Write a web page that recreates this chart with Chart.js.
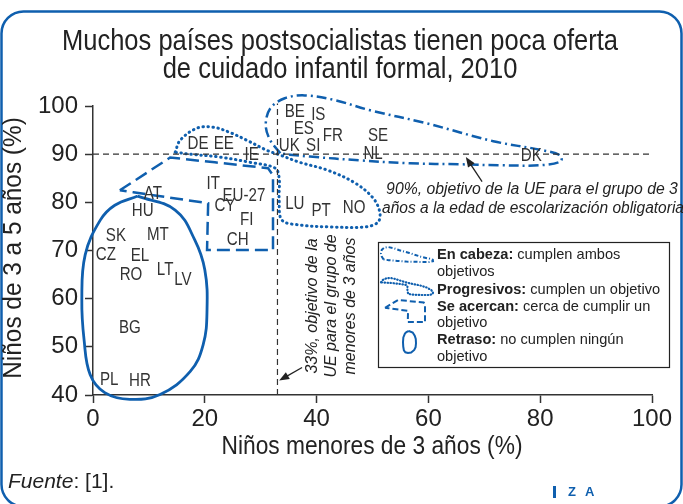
<!DOCTYPE html>
<html>
<head>
<meta charset="utf-8">
<script src="https://cdn.jsdelivr.net/npm/chart.js@4.4.0/dist/chart.umd.min.js"></script>
<style>
  html, body { margin: 0; padding: 0; background: #fff; }
  #wrap { width: 683px; height: 504px; position: relative; }
</style>
</head>
<body>
<div id="wrap"><canvas id="grafico" width="683" height="504"></canvas></div>
<script>
// datos (2010)
var paises   = ['BE', 'IS', 'ES', 'FR', 'SE', 'UK', 'SI', 'NL', 'DK', 'DE', 'EE', 'IE', 'IT', 'EU-27', 'AT', 'CY', 'FI', 'CH',
                'HU', 'SK', 'MT', 'CZ', 'EL', 'RO', 'LT', 'LV', 'BG', 'PL', 'HR', 'LU', 'PT', 'NO'];
var menores3 = [36.1, 40.3, 37.7, 42.9, 51.0, 35.1, 39.4, 50.1, 78.4, 18.8, 23.4, 28.4, 21.5, 27.0, 10.7, 23.6, 27.5, 25.9,
                8.9, 4.1, 11.6, 2.3, 8.4, 6.8, 12.9, 16.1, 6.6, 2.9, 8.4, 36.1, 40.8, 46.7];
var de3a5    = [98.8, 98.2, 95.3, 93.8, 93.7, 91.7, 91.7, 90.0, 89.6, 92.1, 92.1, 89.8, 83.9, 81.3, 81.8, 79.2, 76.3, 72.2,
                78.2, 73.0, 73.2, 69.1, 68.9, 64.9, 66.0, 63.9, 54.0, 43.2, 42.8, 79.6, 78.2, 78.8];

var xTicks = [0, 20, 40, 60, 80, 100];
var yTicks = [40, 50, 60, 70, 80, 90, 100];

var objetivoMenores3 = 33;
var objetivo3a5 = 90;

// contornos de los grupos (en unidades de los ejes)
var enCabeza = [[33.5, 90.2], [31.7, 92.9], [30.9, 96.0], [31.7, 99.5], [34.3, 101.6], [37.9, 102.2], [43.3, 101.2],
                [49.6, 99.1], [59.7, 96.4], [71.6, 92.7], [80.5, 90.8], [83.5, 89.8], [83.7, 88.5], [80.0, 87.7],
                [72.8, 87.7], [65.7, 87.9], [56.7, 88.1], [47.8, 88.7], [38.8, 89.5], [35.2, 89.9], [33.5, 90.2]];
var progresivos = [[14.7, 90.4], [15.6, 92.9], [18.6, 95.4], [21.5, 95.6], [24.5, 94.5], [27.5, 92.9], [31.1, 90.8],
                   [33.5, 89.8], [37.0, 88.3], [41.9, 86.7], [46.9, 84.0], [50.1, 80.9], [51.3, 78.0], [51.0, 75.9],
                   [48.7, 74.9], [42.4, 74.9], [37.0, 75.3], [33.8, 76.3], [33.3, 80.5], [33.3, 85.0], [32.6, 87.1],
                   [28.1, 88.3], [22.7, 89.4], [17.4, 90.0], [14.7, 90.4]];
var seAcercan = [[4.8, 82.5], [13.8, 89.3], [21.8, 88.3], [31.3, 87.1], [32.2, 85.6], [32.2, 70.1], [20.4, 70.1],
                 [20.6, 79.8], [7.2, 82.1], [4.8, 82.5]];
var retraso = [[8.0, 81.3], [14.7, 78.4], [18.2, 72.2], [20.0, 66.0], [20.4, 57.7], [19.7, 50.4], [17.4, 44.9],
               [12.0, 40.1], [6.6, 39.1], [2.1, 40.5], [-0.5, 44.2], [-1.6, 51.5], [-2.0, 59.8], [-1.4, 69.1],
               [1.3, 76.3], [3.9, 79.4], [8.0, 81.3]];

var azul = '#0f5fae';
var gris = '#333333';
var fuente = '"Liberation Sans", Arial, sans-serif';

function pts(arr) {
  return arr.map(function(p) { return { x: p[0], y: p[1] }; });
}

function contorno(arr, dash, width, tension) {
  return {
    type: 'line', data: pts(arr), borderColor: azul, borderWidth: width, borderDash: dash,
    borderCapStyle: dash.length && dash[0] < 2 ? 'round' : 'butt',
    pointRadius: 0, tension: tension, fill: false, clip: false
  };
}

function linea(x0, y0, x1, y1) {
  return {
    type: 'line', data: [{ x: x0, y: y0 }, { x: x1, y: y1 }], borderColor: gris, borderWidth: 1.2,
    borderDash: [6, 4], pointRadius: 0, fill: false, clip: false
  };
}

// texto algo estrechado (la fuente original es condensada)
function texto(ctx, s, x, y, esc) {
  ctx.save();
  ctx.translate(x, y);
  ctx.scale(esc, 1);
  ctx.fillText(s, 0, 0);
  ctx.restore();
}

function flecha(ctx, x0, y0, x1, y1) {
  var a = Math.atan2(y1 - y0, x1 - x0);
  ctx.save();
  ctx.strokeStyle = '#222'; ctx.fillStyle = '#222'; ctx.lineWidth = 1.3;
  ctx.beginPath(); ctx.moveTo(x0, y0); ctx.lineTo(x1 - 6 * Math.cos(a), y1 - 6 * Math.sin(a)); ctx.stroke();
  ctx.beginPath();
  ctx.moveTo(x1, y1);
  ctx.lineTo(x1 - 10 * Math.cos(a) + 4 * Math.sin(a), y1 - 10 * Math.sin(a) - 4 * Math.cos(a));
  ctx.lineTo(x1 - 10 * Math.cos(a) - 4 * Math.sin(a), y1 - 10 * Math.sin(a) + 4 * Math.cos(a));
  ctx.closePath(); ctx.fill();
  ctx.restore();
}

// icono de leyenda: el mismo contorno reducido a una caja
function icono(ctx, arr, bx, by, bw, bh, dash, width) {
  var xs = arr.map(function(p) { return p[0]; }), ys = arr.map(function(p) { return p[1]; });
  var x0 = Math.min.apply(null, xs), x1 = Math.max.apply(null, xs);
  var y0 = Math.min.apply(null, ys), y1 = Math.max.apply(null, ys);
  var q = arr.map(function(p) {
    return [bx + (p[0] - x0) / (x1 - x0) * bw, by + (y1 - p[1]) / (y1 - y0) * bh];
  });
  ctx.save();
  ctx.strokeStyle = azul; ctx.lineWidth = width; ctx.setLineDash(dash);
  if (dash.length && dash[0] < 2) ctx.lineCap = 'round';
  ctx.beginPath();
  ctx.moveTo(q[0][0], q[0][1]);
  for (var i = 1; i < q.length; i++) ctx.lineTo(q[i][0], q[i][1]);
  ctx.stroke();
  ctx.restore();
}

var textos = {
  id: 'textos',
  afterDatasetsDraw: function(chart) {
    var ctx = chart.ctx, sx = chart.scales.x, sy = chart.scales.y;
    ctx.save();
    ctx.fillStyle = '#333';
    ctx.font = '18px ' + fuente;
    ctx.textAlign = 'center';
    ctx.textBaseline = 'middle';
    paises.forEach(function(p, i) {
      texto(ctx, p, sx.getPixelForValue(menores3[i]), sy.getPixelForValue(de3a5[i]), 0.84);
    });
    ctx.restore();
  },
  afterDraw: function(chart) {
    var ctx = chart.ctx, sx = chart.scales.x, sy = chart.scales.y;
    ctx.save();

    // marco
    ctx.strokeStyle = azul; ctx.lineWidth = 2.5;
    ctx.beginPath();
    ctx.roundRect(1.5, 11.5, 680, 495, 22);
    ctx.stroke();

    // título
    ctx.fillStyle = '#222';
    ctx.textAlign = 'center'; ctx.textBaseline = 'middle';
    ctx.font = '29px ' + fuente;
    texto(ctx, 'Muchos países postsocialistas tienen poca oferta', 340, 42, 0.88);
    texto(ctx, 'de cuidado infantil formal, 2010', 340, 70, 0.88);

    // títulos de ejes
    ctx.font = '25px ' + fuente;
    texto(ctx, 'Niños menores de 3 años (%)', 372, 447, 0.91);
    ctx.save();
    ctx.translate(14, 248); ctx.rotate(-Math.PI / 2);
    texto(ctx, 'Niños de 3 a 5 años (%)', 0, 0, 0.975);
    ctx.restore();

    // anotaciones
    ctx.fillStyle = '#222';
    ctx.font = 'italic 16px ' + fuente;
    texto(ctx, '90%, objetivo de la UE para el grupo de 3', 532, 190, 0.985);
    texto(ctx, 'años a la edad de escolarización obligatoria', 533, 209, 0.97);
    flecha(ctx, sx.getPixelForValue(69.6), sy.getPixelForValue(84.3), sx.getPixelForValue(66.7), sy.getPixelForValue(89.4));

    ctx.save();
    ctx.translate(332, 306); ctx.rotate(-Math.PI / 2);
    ctx.fillText('33%, objetivo de la', 0, -19);
    ctx.fillText('UE para el grupo de', 0, 0);
    ctx.fillText('menores de 3 años', 0, 19);
    ctx.restore();
    flecha(ctx, sx.getPixelForValue(37.4), sy.getPixelForValue(45.7), sx.getPixelForValue(33.3), sy.getPixelForValue(43.0));

    // leyenda
    ctx.fillStyle = '#fff';
    ctx.fillRect(378, 242, 292, 126);
    ctx.strokeStyle = '#222'; ctx.lineWidth = 1.2;
    ctx.strokeRect(378.5, 242.5, 291, 125);
    icono(ctx, enCabeza, 381, 247, 52, 15, [4, 2, 1, 2], 2);
    icono(ctx, progresivos, 381, 278, 52, 17, [0.5, 2.5], 2.2);
    icono(ctx, seAcercan, 385, 300, 40, 22, [6, 3], 2);
    icono(ctx, retraso, 403, 331, 13, 22, [], 2);

    var filas = [
      ['En cabeza:', ' cumplen ambos', 255], ['', 'objetivos', 272],
      ['Progresivos:', ' cumplen un objetivo', 290], ['Se acercan:', ' cerca de cumplir un', 307],
      ['', 'objetivo', 323], ['Retraso:', ' no cumplen ningún', 340], ['', 'objetivo', 357]
    ];
    ctx.textAlign = 'left'; ctx.textBaseline = 'middle'; ctx.fillStyle = '#222';
    filas.forEach(function(f) {
      ctx.font = 'bold 14.6px ' + fuente;
      ctx.fillText(f[0], 437, f[2]);
      var w = ctx.measureText(f[0]).width;
      ctx.font = '14.6px ' + fuente;
      ctx.fillText(f[1], 437 + w, f[2]);
    });

    // fuente
    ctx.font = 'italic 21px ' + fuente;
    ctx.fillText('Fuente', 8, 482);
    var wf = ctx.measureText('Fuente').width;
    ctx.font = '21px ' + fuente;
    ctx.fillText(': [1].', 8 + wf, 482);

    // logo
    ctx.fillStyle = azul;
    ctx.font = 'bold 13px ' + fuente;
    ctx.fillRect(553, 486, 3, 12);
    ctx.fillText('Z', 568, 492);
    ctx.fillText('A', 585, 492);

    ctx.restore();
  }
};

var ctx = document.getElementById('grafico').getContext('2d');
var chart = new Chart(ctx, {
  type: 'scatter',
  data: {
    datasets: [
      linea(0, objetivo3a5, 100, objetivo3a5),
      linea(objetivoMenores3, 40, objetivoMenores3, 100.5),
      contorno(enCabeza, [10, 4, 2, 4], 2.5, 0.35),
      contorno(progresivos, [0.5, 4.5], 3, 0.35),
      contorno(seAcercan, [13, 6], 2.5, 0),
      contorno(retraso, [], 2.8, 0.4),
      { label: 'Países', data: paises.map(function(p, i) { return { x: menores3[i], y: de3a5[i] }; }), pointRadius: 0 }
    ]
  },
  options: {
    responsive: false,
    animation: false,
    layout: { padding: { top: 106, right: 31, left: 0, bottom: 0 } },
    elements: { line: { capBezierPoints: false } },
    plugins: { legend: { display: false }, tooltip: { enabled: false }, title: { display: false } },
    scales: {
      x: {
        type: 'linear', min: 0, max: 100,
        afterFit: function(s) { s.height = 109; },
        afterBuildTicks: function(s) { s.ticks = xTicks.map(function(v) { return { value: v }; }); },
        grid: { drawOnChartArea: false, color: gris, tickLength: 8, tickWidth: 1.5 },
        border: { color: gris, width: 1.5 },
        ticks: { color: '#222', font: { family: fuente, size: 24 }, padding: 2, maxRotation: 0 }
      },
      y: {
        type: 'linear', min: 40, max: 100,
        afterFit: function(s) { s.width = 93; },
        afterBuildTicks: function(s) { s.ticks = yTicks.map(function(v) { return { value: v }; }); },
        grid: { drawOnChartArea: false, color: gris, tickLength: 8, tickWidth: 1.5 },
        border: { color: gris, width: 1.5 },
        ticks: { color: '#222', font: { family: fuente, size: 24 }, padding: 7 }
      }
    }
  },
  plugins: [textos]
});
</script>
</body>
</html>
